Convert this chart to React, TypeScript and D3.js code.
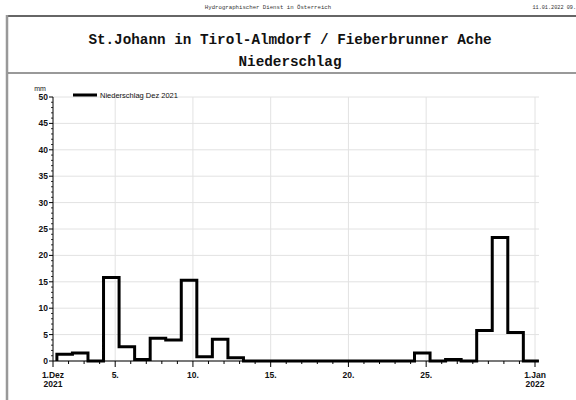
import React from "react";
import * as d3 from "d3";

const days: number[] = Array.from({ length: 31 }, (_, i) => i + 1);
const precip: number[] = [
  1.3, 1.5, 0, 15.8, 2.7, 0.3, 4.3, 4.0, 15.3, 0.8,
  4.1, 0.6, 0, 0, 0, 0, 0, 0, 0, 0,
  0, 0, 0, 1.5, 0, 0.3, 0, 5.8, 23.4, 5.4,
  0,
];
const yTicks: number[] = [0, 5, 10, 15, 20, 25, 30, 35, 40, 45, 50];
const xTickDays: number[] = [1, 5, 10, 15, 20, 25, 32];
const xTickLabels: string[][] = [["1.Dez", "2021"], ["5."], ["10."], ["15."], ["20."], ["25."], ["1.Jan", "2022"]];
const title1 = "St.Johann in Tirol-Almdorf / Fieberbrunner Ache";
const title2 = "Niederschlag";
const headerText = "Hydrographischer Dienst in Österreich";
const dateText = "11.01.2022 09.";
const legendText = "Niederschlag Dez 2021";
const unitText = "mm";

const W = 576;
const H = 400;
const left = 53;
const right = 539;
const top = 97;
const bottom = 361;

export default function App() {
  const x = d3.scaleLinear().domain([1, 32]).range([left, 535]);
  const y = d3.scaleLinear().domain([0, 50]).range([bottom, top]);
  const off = 0.25;

  const pts: [number, number][] = [];
  pts.push([x(1 + off), y(0)]);
  precip.forEach((v, i) => {
    const d = days[i];
    pts.push([x(d + off), y(v)]);
    pts.push([x(d + 1 + off), y(v)]);
  });
  const line = d3.line<[number, number]>().x((p) => p[0]).y((p) => p[1]);
  const pathD = line(pts) || "";

  const minorY = d3.range(0, 51, 1).filter((v) => v % 5 !== 0);
  const sans = "Liberation Sans, Arial, sans-serif";
  const mono = "Liberation Mono, Courier New, monospace";

  return (
    <svg width={W} height={H} style={{ position: "absolute", left: 0, top: 0, background: "#fff" }}>
      <rect x={0} y={0} width={W} height={H} fill="#fff" />
      {/* header */}
      <text x={268} y={9} fontFamily={mono} fontSize={5.7} textAnchor="middle" fill="#333">{headerText}</text>
      <text x={576} y={9} fontFamily={mono} fontSize={5.2} textAnchor="end" fill="#333">{dateText}</text>
      <line x1={6} x2={W} y1={16} y2={16} stroke="#666" strokeWidth={2} />
      <line x1={7} x2={7} y1={15} y2={H} stroke="#999" strokeWidth={2.5} />
      <text x={290} y={44} fontFamily={mono} fontWeight="bold" fontSize={14.3} textAnchor="middle" fill="#111">{title1}</text>
      <text x={290} y={66} fontFamily={mono} fontWeight="bold" fontSize={14.3} textAnchor="middle" fill="#111">{title2}</text>
      <line x1={8} x2={W} y1={73} y2={73} stroke="#777" strokeWidth={1.5} />

      {/* grid */}
      {yTicks.map((t) => (
        <line key={"gy" + t} x1={left} x2={right} y1={y(t)} y2={y(t)} stroke="#e2e2e2" strokeWidth={1} />
      ))}
      {xTickDays.slice(1).map((d) => (
        <line key={"gx" + d} x1={x(d)} x2={x(d)} y1={top} y2={bottom} stroke="#e2e2e2" strokeWidth={1} />
      ))}

      {/* data */}
      <path d={pathD} fill="none" stroke="#000" strokeWidth={3} strokeLinejoin="miter" />

      {/* y axis */}
      <line x1={left} x2={left} y1={top} y2={bottom} stroke="#000" strokeWidth={1} />
      {yTicks.map((t) => (
        <g key={"yt" + t}>
          <line x1={left - 4} x2={left} y1={y(t)} y2={y(t)} stroke="#000" />
          <text x={left - 5} y={y(t) + 3} fontFamily={sans} fontWeight="bold" fontSize={8.5} textAnchor="end" fill="#111">{t}</text>
        </g>
      ))}
      {minorY.map((t) => (
        <line key={"my" + t} x1={left - 2} x2={left} y1={y(t)} y2={y(t)} stroke="#000" strokeWidth={0.8} />
      ))}
      <text x={left - 13} y={top - 6.5} fontFamily={sans} fontSize={7} textAnchor="middle" fill="#111">{unitText}</text>

      {/* x axis */}
      <line x1={left} x2={right} y1={bottom} y2={bottom} stroke="#000" strokeWidth={1} />
      {d3.range(1, 33).map((d) => {
        const major = xTickDays.includes(d);
        return <line key={"xt" + d} x1={x(d)} x2={x(d)} y1={bottom} y2={bottom + (major ? 6 : 3)} stroke="#000" strokeWidth={1} />;
      })}
      {xTickDays.map((d, i) => (
        <text key={"xl" + d} x={x(d)} y={bottom + 17} fontFamily={sans} fontWeight="bold" fontSize={8.5} textAnchor="middle" fill="#111">
          {xTickLabels[i].map((s, j) => (
            <tspan key={j} x={x(d)} dy={j === 0 ? 0 : 9}>{s}</tspan>
          ))}
        </text>
      ))}

      {/* legend */}
      <line x1={73} x2={97} y1={top - 2} y2={top - 2} stroke="#000" strokeWidth={3} />
      <text x={100} y={top + 0.5} fontFamily={sans} fontSize={7.5} fill="#111">{legendText}</text>
    </svg>
  );
}
